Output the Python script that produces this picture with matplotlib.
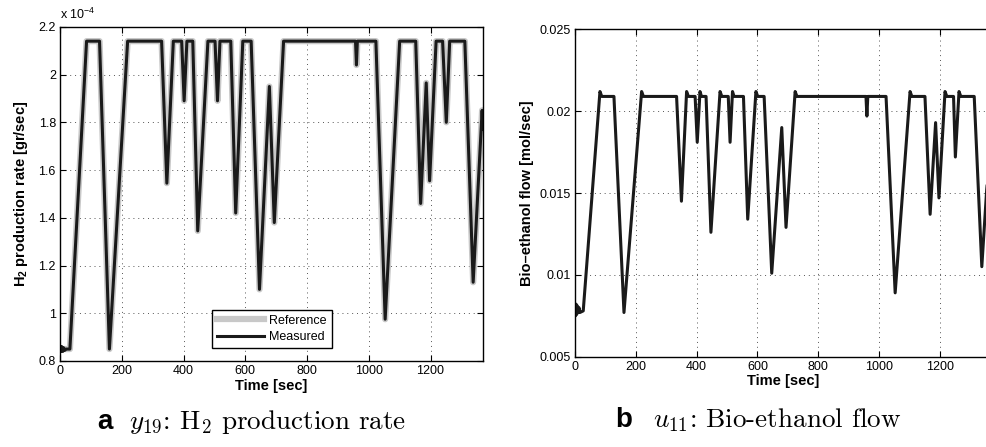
#!/usr/bin/env python3
"""H2 production rate and bio-ethanol flow over time (two panels)."""

import matplotlib

matplotlib.use("Agg")
import matplotlib.pyplot as plt

# panel a: H2 production rate, values in units of 1e-4 gr/sec
H2_TIME = [0, 3, 6, 9, 12, 16, 20, 32, 86, 128, 160, 219, 329, 346, 367, 394,
           402, 411, 430, 446, 479, 502, 510, 518, 553, 569, 592, 619, 646,
           678, 694, 724, 957, 960, 963, 1023, 1053, 1100, 1152, 1168, 1186,
           1197, 1218, 1239, 1251, 1262, 1311, 1338, 1367, 1370]
H2_MEASURED = [0.86, 0.84, 0.86, 0.84, 0.855, 0.845, 0.85, 0.85, 2.14, 2.14,
               0.85, 2.14, 2.14, 1.545, 2.14, 2.14, 1.89, 2.14, 2.14, 1.345,
               2.14, 2.14, 1.89, 2.14, 2.14, 1.42, 2.14, 2.14, 1.10, 1.95,
               1.38, 2.14, 2.14, 2.04, 2.14, 2.14, 0.975, 2.14, 2.14, 1.46,
               1.965, 1.555, 2.14, 2.14, 1.80, 2.14, 2.14, 1.13, 1.85, 1.77]
H2_REFERENCE = [0.85, 0.85, 0.85, 0.85, 0.85, 0.85, 0.85, 0.85, 2.14, 2.14,
                0.85, 2.14, 2.14, 1.545, 2.14, 2.14, 1.89, 2.14, 2.14, 1.345,
                2.14, 2.14, 1.89, 2.14, 2.14, 1.42, 2.14, 2.14, 1.10, 1.95,
                1.38, 2.14, 2.14, 2.04, 2.14, 2.14, 0.975, 2.14, 2.14, 1.46,
                1.965, 1.555, 2.14, 2.14, 1.80, 2.14, 2.14, 1.13, 1.85, 1.77]

# panel b: bio-ethanol flow [mol/sec]
FLOW_TIME = [0, 2, 4, 6, 8, 10, 13, 16, 27, 82, 88, 128, 161, 219, 225, 334,
             350, 367, 373, 395, 402, 411, 416, 431, 447, 477, 483, 504, 510,
             518, 523, 554, 568, 595, 601, 622, 647, 680, 694, 724, 730, 957,
             960, 963, 1023, 1053, 1102, 1108, 1151, 1168, 1186, 1197, 1217,
             1223, 1245, 1251, 1263, 1269, 1313, 1338, 1354, 1370]
FLOW = [0.0082, 0.0075, 0.0082, 0.0076, 0.0081, 0.0077, 0.0080, 0.0077,
        0.0078, 0.0212, 0.0209, 0.0209, 0.0077, 0.0212, 0.0209, 0.0209,
        0.0145, 0.0212, 0.0209, 0.0209, 0.0181, 0.0212, 0.0209, 0.0209,
        0.0126, 0.0212, 0.0209, 0.0209, 0.0181, 0.0212, 0.0209, 0.0209,
        0.0134, 0.0212, 0.0209, 0.0209, 0.0101, 0.0190, 0.0129, 0.0212,
        0.0209, 0.0209, 0.0197, 0.0209, 0.0209, 0.0089, 0.0212, 0.0209,
        0.0209, 0.0137, 0.0193, 0.0147, 0.0212, 0.0209, 0.0209, 0.0172,
        0.0212, 0.0209, 0.0209, 0.0105, 0.0152, 0.0185]

H2_YTICKS = [0.8, 1.0, 1.2, 1.4, 1.6, 1.8, 2.0, 2.2]
H2_YLABELS = ["0.8", "1", "1.2", "1.4", "1.6", "1.8", "2", "2.2"]
FLOW_YTICKS = [0.005, 0.01, 0.015, 0.02, 0.025]
FLOW_YLABELS = ["0.005", "0.01", "0.015", "0.02", "0.025"]
XTICKS = [0, 200, 400, 600, 800, 1000, 1200]

plt.rcParams.update(
    {
        "font.family": ["Liberation Sans", "DejaVu Sans"],
        "font.size": 9,
        "mathtext.fontset": "custom",
        "mathtext.rm": "Liberation Sans",
        "mathtext.bf": "Liberation Sans:bold",
        "xtick.direction": "in",
        "ytick.direction": "in",
        "xtick.top": True,
        "ytick.right": True,
        "xtick.major.size": 4,
        "ytick.major.size": 4,
        "xtick.labelsize": 9,
        "ytick.labelsize": 9,
        "axes.linewidth": 1.0,
    }
)


def style_axes(ax, yticks, ylabels):
    ax.set_xlim(0, 1370)
    ax.set_xticks(XTICKS)
    ax.set_xticklabels([str(t) for t in XTICKS])
    ax.set_yticks(yticks)
    ax.set_yticklabels(ylabels)
    ax.set_ylim(yticks[0], yticks[-1])
    ax.grid(True, color="#555555", linestyle=(0, (1, 4)), linewidth=0.7)
    ax.tick_params(pad=3)
    ax.set_xlabel("Time [sec]", fontsize=10.5, fontweight="bold", labelpad=1)


fig = plt.figure(figsize=(9.87, 4.47), dpi=100)

ax_a = fig.add_axes([0.0608, 0.1924, 0.4286, 0.7476])
ax_a.plot(H2_TIME, H2_REFERENCE, color="#c8c8c8", linewidth=4.5,
          label="Reference")
ax_a.plot(H2_TIME, H2_MEASURED, color="#1a1a1a", linewidth=2.2,
          label="Measured")
style_axes(ax_a, H2_YTICKS, H2_YLABELS)
ax_a.set_ylabel(r"H$_\mathbf{2}$ production rate [gr/sec]", fontsize=10.5,
                fontweight="bold", labelpad=6)
ax_a.text(0.0, 1.015, r"x 10$^{-4}$", transform=ax_a.transAxes, fontsize=9,
          ha="left", va="bottom")
legend = ax_a.legend(loc="lower center", bbox_to_anchor=(0.5, 0.02),
                     fancybox=False, framealpha=1, edgecolor="black",
                     fontsize=9, handlelength=3.8, borderpad=0.4,
                     labelspacing=0.35, handletextpad=0.4)
legend.get_frame().set_linewidth(1.0)

ax_b = fig.add_axes([0.5826, 0.202, 0.422, 0.7324])
ax_b.plot(FLOW_TIME, FLOW, color="#1a1a1a", linewidth=2.2)
style_axes(ax_b, FLOW_YTICKS, FLOW_YLABELS)
ax_b.set_ylabel("Bio\u2013ethanol flow [mol/sec]", fontsize=10.5,
                fontweight="bold", labelpad=4)

# panel captions
fig.text(0.0985, 0.040, "a", fontsize=20, fontweight="bold", va="baseline")
fig.text(0.131, 0.040, r"$y_{19}$: H$_2$ production rate", fontsize=19.5,
         va="baseline", family="cmr10", math_fontfamily="cm")
fig.text(0.623, 0.044, "b", fontsize=20, fontweight="bold", va="baseline")
fig.text(0.662, 0.044, r"$u_{11}$: Bio-ethanol flow", fontsize=19.5,
         va="baseline", family="cmr10", math_fontfamily="cm")

fig.savefig("out.png", dpi=100)
